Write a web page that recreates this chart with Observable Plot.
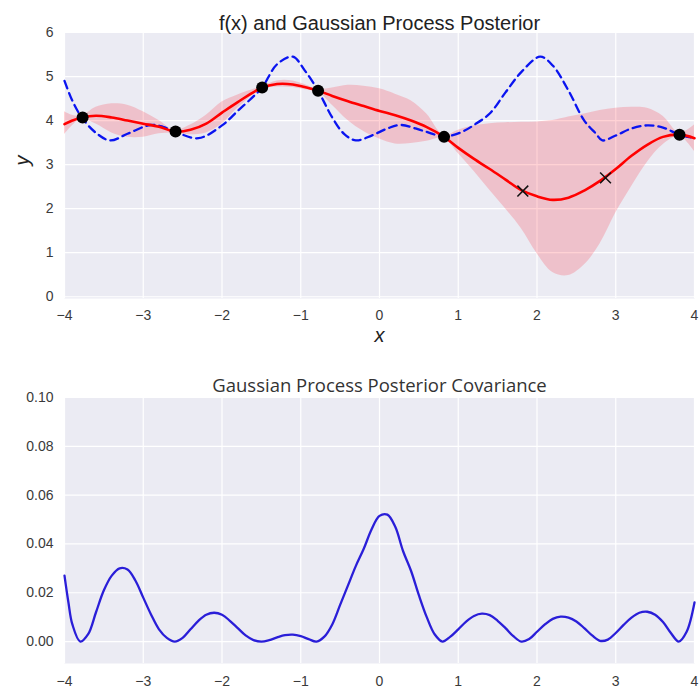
<!DOCTYPE html>
<html>
<head>
<meta charset="utf-8">
<script src="https://cdn.jsdelivr.net/npm/d3@7"></script>
<script src="https://cdn.jsdelivr.net/npm/@observablehq/plot@0.6"></script>
<style>
  body { margin: 0; background: #fff; }
  #chart { width: 699px; }
  #chart svg { display: block; }
</style>
</head>
<body>
<div id="chart"></div>
<script>
// ---- tick values ----
const xTicks = [-4, -3, -2, -1, 0, 1, 2, 3, 4];
const yTicksTop = [0, 1, 2, 3, 4, 5, 6];
const yTicksBottom = [0, 0.02, 0.04, 0.06, 0.08, 0.10];

// ---- true function f(x) (dashed) ----
const fX = [-4, -3.9, -3.78, -3.6, -3.42, -3.2, -2.91, -2.75, -2.6, -2.3, -2.0, -1.8, -1.6, -1.49, -1.3, -1.1, -0.95, -0.78, -0.6, -0.45, -0.3, -0.1, 0.1, 0.27, 0.55, 0.82, 1.03, 1.2, 1.4, 1.6, 1.8, 2.04, 2.2, 2.4, 2.6, 2.75, 2.83, 3.0, 3.2, 3.4, 3.6, 3.81, 4.0];
const fY = [4.9, 4.45, 4.07, 3.72, 3.55, 3.7, 3.9, 3.86, 3.75, 3.6, 3.89, 4.22, 4.55, 4.75, 5.28, 5.45, 5.14, 4.68, 4.07, 3.7, 3.55, 3.66, 3.82, 3.9, 3.77, 3.64, 3.73, 3.9, 4.16, 4.64, 5.1, 5.45, 5.25, 4.68, 4.0, 3.7, 3.55, 3.66, 3.82, 3.89, 3.84, 3.68, 3.6];

// ---- posterior mean and confidence band ----
const postX = [-4, -3.9, -3.78, -3.6, -3.4, -3.2, -3.0, -2.8, -2.6, -2.4, -2.2, -2.0, -1.8, -1.5, -1.3, -1.1, -0.95, -0.78, -0.6, -0.4, -0.2, 0, 0.2, 0.4, 0.6, 0.82, 1.0, 1.2, 1.4, 1.6, 1.8, 2.0, 2.2, 2.4, 2.6, 2.8, 3.0, 3.2, 3.4, 3.6, 3.81, 4.0];
const postMean = [3.92, 4.0, 4.07, 4.11, 4.07, 4.0, 3.93, 3.86, 3.75, 3.79, 3.93, 4.18, 4.42, 4.74, 4.83, 4.82, 4.76, 4.68, 4.56, 4.44, 4.33, 4.22, 4.12, 4.0, 3.85, 3.63, 3.38, 3.13, 2.9, 2.66, 2.42, 2.28, 2.2, 2.25, 2.41, 2.63, 2.9, 3.2, 3.45, 3.63, 3.68, 3.6];
const bandLow = [3.68, 3.88, 4.04, 3.92, 3.72, 3.62, 3.62, 3.7, 3.72, 3.68, 3.72, 3.92, 4.28, 4.7, 4.76, 4.75, 4.7, 4.65, 4.35, 4.0, 3.75, 3.58, 3.47, 3.48, 3.53, 3.6, 3.25, 2.85, 2.42, 2.0, 1.55, 0.98, 0.55, 0.48, 0.72, 1.2, 1.9, 2.5, 3.05, 3.45, 3.64, 3.3];
const bandHigh = [4.2, 4.12, 4.1, 4.3, 4.38, 4.35, 4.2, 4.0, 3.78, 3.9, 4.12, 4.42, 4.58, 4.77, 4.9, 4.9, 4.82, 4.71, 4.74, 4.8, 4.78, 4.72, 4.6, 4.45, 4.15, 3.66, 3.78, 3.88, 3.93, 3.95, 3.96, 3.97, 4.0, 4.08, 4.15, 4.23, 4.28, 4.3, 4.28, 4.1, 3.72, 3.9];

// ---- observations (dots) and test points (crosses) ----
const obsX = [-3.77, -2.59, -1.49, -0.78, 0.82, 3.81];
const obsY = [4.07, 3.75, 4.75, 4.68, 3.63, 3.68];
const testX = [1.82, 2.87];
const testY = [2.4, 2.7];

// ---- posterior covariance ----
const covX = [-4, -3.95, -3.9, -3.8, -3.7, -3.6, -3.5, -3.4, -3.3, -3.2, -3.1, -3.0, -2.9, -2.8, -2.7, -2.6, -2.5, -2.4, -2.3, -2.2, -2.1, -2.0, -1.9, -1.8, -1.7, -1.6, -1.5, -1.4, -1.3, -1.2, -1.1, -1.0, -0.9, -0.8, -0.7, -0.6, -0.5, -0.4, -0.3, -0.2, -0.1, 0, 0.1, 0.2, 0.3, 0.4, 0.5, 0.6, 0.7, 0.8, 0.9, 1.0, 1.1, 1.2, 1.3, 1.4, 1.5, 1.6, 1.7, 1.8, 1.9, 2.0, 2.1, 2.2, 2.3, 2.4, 2.5, 2.6, 2.7, 2.8, 2.9, 3.0, 3.1, 3.2, 3.3, 3.4, 3.5, 3.6, 3.7, 3.8, 3.9, 4.0];
const covY = [0.027, 0.016, 0.007, 0.0, 0.003, 0.012, 0.021, 0.027, 0.030, 0.0295, 0.025, 0.018, 0.011, 0.005, 0.0015, 0.0, 0.0015, 0.005, 0.0085, 0.011, 0.0118, 0.011, 0.0085, 0.0055, 0.0025, 0.0006, 0.0, 0.0006, 0.0017, 0.0026, 0.0028, 0.0022, 0.001, 0.0, 0.002, 0.007, 0.015, 0.023, 0.031, 0.038, 0.046, 0.0515, 0.052, 0.047, 0.037, 0.029, 0.019, 0.01, 0.003, 0.0, 0.002, 0.005, 0.0082, 0.0105, 0.0114, 0.0108, 0.0085, 0.0055, 0.0022, 0.0, 0.001, 0.004, 0.007, 0.0093, 0.0102, 0.0098, 0.0082, 0.0055, 0.0025, 0.0003, 0.0008, 0.0035, 0.0068, 0.0098, 0.0118, 0.0122, 0.011, 0.008, 0.0035, 0.0, 0.004, 0.016];

// ---- helpers ----
const zip = (xs, ys) => xs.map((x, i) => ({x, y: ys[i]}));
const minusFmt = d => (d < 0 ? "\u2212" + Math.abs(d) : String(d));
const bg = "#EBEBF3";
const gridStyle = {stroke: "white", strokeOpacity: 1, strokeWidth: 1.2};
const axisFont = {fontSize: 14, fill: "#3a3a3a"};

const fData = zip(fX, fY);
const meanData = zip(postX, postMean);
const bandData = postX.map((x, i) => ({x, lo: bandLow[i], hi: bandHigh[i]}));
const obsData = zip(obsX, obsY);
const testData = zip(testX, testY);
const covData = zip(covX, covY);

// ---- upper panel: f(x) and GP posterior ----
const upper = Plot.plot({
  width: 699,
  height: 352,
  marginLeft: 64,
  marginRight: 5,
  marginTop: 32,
  marginBottom: 54,
  style: {fontFamily: "'Liberation Sans', Arial, sans-serif", background: "white", overflow: "visible"},
  x: {domain: [-4, 4]},
  y: {domain: [-0.04, 6]},
  marks: [
    Plot.frame({fill: bg, stroke: null}),
    Plot.gridX(xTicks, gridStyle),
    Plot.gridY(yTicksTop, gridStyle),
    Plot.axisX(xTicks, {tickSize: 0, tickPadding: 12, tickFormat: minusFmt, label: null, ...axisFont}),
    Plot.axisY(yTicksTop, {tickSize: 0, tickPadding: 11, label: null, ...axisFont}),
    Plot.areaY(bandData, {x: "x", y1: "lo", y2: "hi", fill: "#ff1020", fillOpacity: 0.19, curve: "catmull-rom"}),
    Plot.line(fData, {x: "x", y: "y", stroke: "#0a14f0", strokeWidth: 2.3, strokeDasharray: "8,5", curve: "catmull-rom"}),
    Plot.line(meanData, {x: "x", y: "y", stroke: "#ff0000", strokeWidth: 2.6, curve: "catmull-rom"}),
    Plot.dot(obsData, {x: "x", y: "y", r: 6, fill: "black", stroke: null}),
    Plot.dot(testData, {x: "x", y: "y", symbol: "times", r: 5, stroke: "#111", strokeWidth: 1.5}),
    Plot.text(["f(x) and Gaussian Process Posterior"], {text: d => d, frameAnchor: "top", dy: -17, fontSize: 20, fill: "#222"}),
    Plot.text(["x"], {text: d => d, frameAnchor: "bottom", dy: 43, fontSize: 20, fontStyle: "italic", fill: "#222"}),
    Plot.text(["y"], {text: d => d, frameAnchor: "left", dx: -42, rotate: -90, fontSize: 20, fontStyle: "italic", fill: "#222"})
  ]
});

// ---- lower panel: posterior covariance ----
const lower = Plot.plot({
  width: 699,
  height: 344,
  marginLeft: 64,
  marginRight: 5,
  marginTop: 45,
  marginBottom: 33,
  style: {fontFamily: "'Liberation Sans', Arial, sans-serif", background: "white", overflow: "visible"},
  x: {domain: [-4, 4]},
  y: {domain: [-0.009, 0.1]},
  marks: [
    Plot.frame({fill: bg, stroke: null}),
    Plot.gridX(xTicks, gridStyle),
    Plot.gridY(yTicksBottom, gridStyle),
    Plot.axisX(xTicks, {tickSize: 0, tickPadding: 13, tickFormat: minusFmt, label: null, ...axisFont}),
    Plot.axisY(yTicksBottom, {tickSize: 0, tickPadding: 11, tickFormat: d3.format(".2f"), label: null, ...axisFont}),
    Plot.line(covData, {x: "x", y: "y", stroke: "#2a1ed8", strokeWidth: 2.3, curve: "catmull-rom"}),
    Plot.text(["Gaussian Process Posterior Covariance"], {text: d => d, frameAnchor: "top", dy: -19, fontSize: 18.5, fontFamily: "'Open Sans', sans-serif", fill: "#333"})
  ]
});

const root = document.getElementById("chart");
root.appendChild(upper);
root.appendChild(lower);
</script>
</body>
</html>
